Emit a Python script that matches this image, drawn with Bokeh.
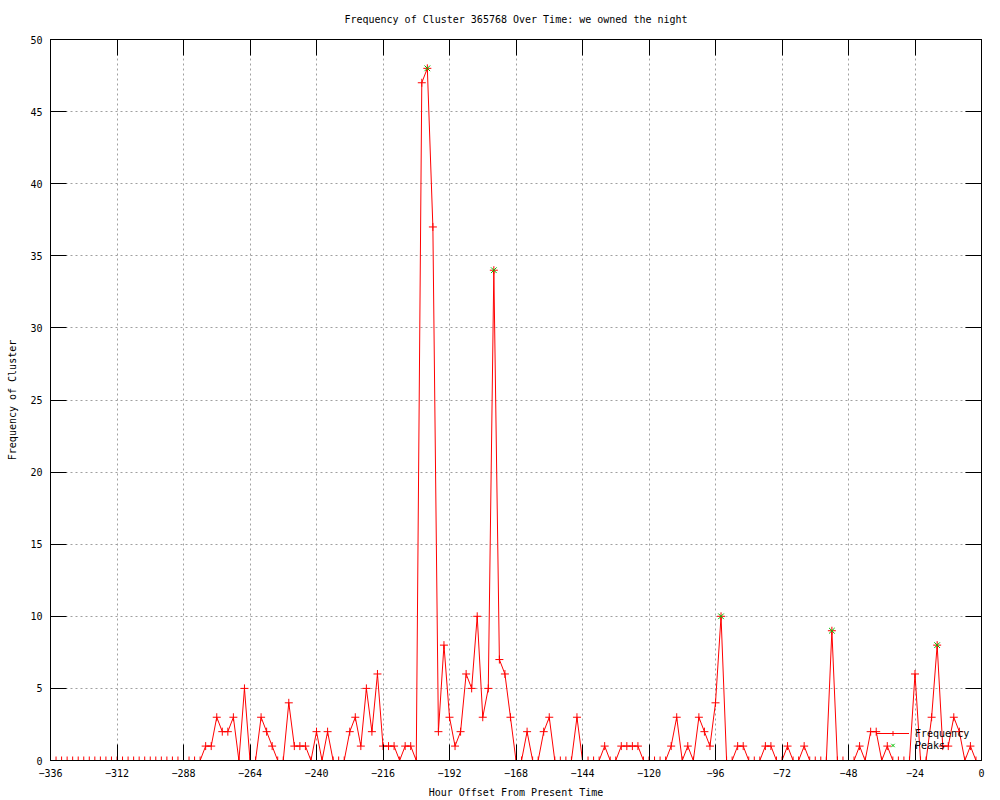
from bokeh.plotting import figure
from bokeh.models import Range1d, LinearAxis, FixedTicker, Legend, LegendItem, ColumnDataSource
from bokeh.embed import file_html
from bokeh.resources import INLINE

# ---- data ----
hours = list(range(-336, 0, 2))
freq = [
    0, 0, 0, 0, 0, 0, 0, 0, 0, 0, 0, 0, 0, 0,          # -336 .. -310
    0, 0, 0, 0, 0, 0, 0, 0, 0, 0, 0, 0, 0, 0,          # -308 .. -282
    1, 1, 3, 2, 2, 3, 0, 5, 0, 0, 3, 2, 1, 0,          # -280 .. -254
    0, 4, 1, 1, 1, 0, 2, 0, 2, 0, 0, 0, 2, 3,          # -252 .. -226
    1, 5, 2, 6, 1, 1, 1, 0, 1, 1, 0, 47, 48, 37,       # -224 .. -198
    2, 8, 3, 1, 2, 6, 5, 10, 3, 5, 34, 7, 6, 3,        # -196 .. -170
    0, 0, 2, 0, 0, 2, 3, 0, 0, 0, 0, 3, 0, 0,          # -168 .. -142
    0, 0, 1, 0, 0, 1, 1, 1, 1, 0, 0, 0, 0, 0,          # -140 .. -114
    1, 3, 0, 1, 0, 3, 2, 1, 4, 10, 0, 0, 1, 1,         # -112 .. -86
    0, 0, 0, 1, 1, 0, 0, 1, 0, 0, 1, 0, 0, 0,          # -84 .. -58
    0, 9, 0, 0, 0, 0, 1, 0, 2, 2, 0, 1, 0, 0,          # -56 .. -30
    0, 0, 6, 0, 0, 3, 8, 1, 1, 3, 2, 0, 1, 0,          # -28 .. -2
]
peak_hours = [-200, -176, -94, -54, -16]
peak_values = [48, 34, 10, 9, 8]
x_ticks = [-336, -312, -288, -264, -240, -216, -192, -168, -144, -120, -96, -72, -48, -24, 0]
y_ticks = [0, 5, 10, 15, 20, 25, 30, 35, 40, 45, 50]

FONT = "DejaVu Sans Mono"

p = figure(width=1000, height=800, output_backend="svg", toolbar_location=None,
           x_range=Range1d(-336, 0), y_range=Range1d(0, 50),
           min_border_left=50, min_border_right=19, min_border_top=39, min_border_bottom=40,
           title="Frequency of Cluster 365768 Over Time: we owned the night")

p.title.align = "center"
p.title.vertical_align = "top"
p.title.text_font = FONT
p.title.text_font_size = "10px"
p.title.text_font_style = "normal"
p.title.text_color = "black"
p.title.standoff = 25

p.outline_line_color = "black"
p.outline_line_width = 1
p.background_fill_color = "white"
p.border_fill_color = "white"


def style_axis(ax, show_labels):
    ax.major_tick_in = 16
    ax.major_tick_out = 0
    ax.minor_tick_line_color = None
    ax.axis_line_color = "black"
    ax.major_tick_line_color = "black"
    ax.major_label_text_font = FONT
    ax.major_label_text_font_size = "10px" if show_labels else "1px"
    ax.major_label_text_color = "black" if show_labels else None
    ax.axis_label_text_font = FONT
    ax.axis_label_text_font_size = "10px"
    ax.axis_label_text_font_style = "normal"
    ax.axis_label_text_color = "black"


xa = p.xaxis[0]
xa.ticker = FixedTicker(ticks=x_ticks)
xa.axis_label = "Hour Offset From Present Time"
style_axis(xa, True)
xa.major_label_standoff = 8
xa.axis_label_standoff = 7

ya = p.yaxis[0]
ya.ticker = FixedTicker(ticks=y_ticks)
ya.axis_label = "Frequency of Cluster"
style_axis(ya, True)
ya.major_label_standoff = 8
ya.axis_label_standoff = 9

top = LinearAxis(ticker=FixedTicker(ticks=x_ticks))
style_axis(top, False)
top.major_label_standoff = 0
p.add_layout(top, "above")

right = LinearAxis(ticker=FixedTicker(ticks=y_ticks))
style_axis(right, False)
right.major_label_standoff = 0
p.add_layout(right, "right")

for g, t in ((p.xgrid[0], x_ticks), (p.ygrid[0], y_ticks)):
    g.ticker = FixedTicker(ticks=t)
    g.grid_line_color = "#a0a0a0"
    g.grid_line_dash = "2 3"
    g.grid_line_width = 1

src = ColumnDataSource(data=dict(h=hours, f=freq))
psrc = ColumnDataSource(data=dict(h=peak_hours, f=peak_values))

line_r = p.line("h", "f", source=src, line_color="#ff0000", line_width=1)
cross_r = p.scatter("h", "f", source=src, marker="cross", size=8,
                    line_color="#ff0000", line_width=1)
peak_r = p.scatter("h", "f", source=psrc, marker="x", size=8,
                   line_color="#00c000", line_width=1)

legend = Legend(items=[LegendItem(label="Frequency", renderers=[line_r, cross_r]),
                       LegendItem(label="Peaks", renderers=[peak_r])],
                location=(826, 9))
legend.label_text_font = FONT
legend.label_text_font_size = "10px"
legend.label_text_color = "black"
legend.glyph_width = 33
legend.glyph_height = 12
legend.label_height = 12
legend.label_standoff = 6
legend.spacing = 0
legend.padding = 0
legend.margin = 0
legend.border_line_alpha = 0
legend.background_fill_alpha = 0
p.add_layout(legend)

open("out.html", "w").write(file_html(p, INLINE))
